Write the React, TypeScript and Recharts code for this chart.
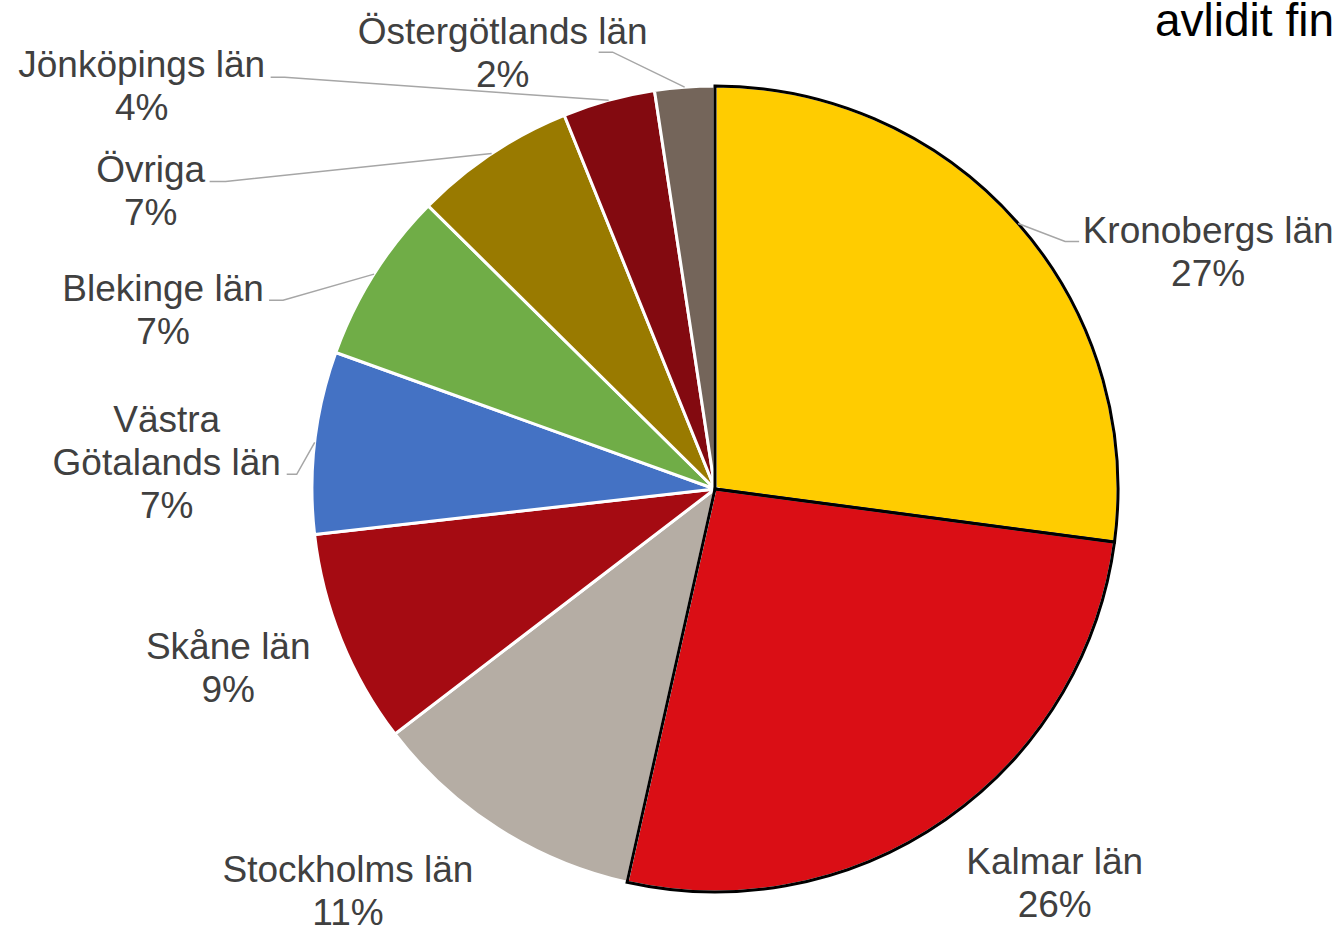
import React from 'react';
import { PieChart, Pie, Cell } from 'recharts';

const regions = [
  'Kronobergs län',
  'Kalmar län',
  'Stockholms län',
  'Skåne län',
  'Västra Götalands län',
  'Blekinge län',
  'Övriga',
  'Jönköpings län',
  'Östergötlands län',
];
const shares = [27.1, 26.4, 11.1, 8.6, 7.3, 6.9, 6.5, 3.7, 2.4];
const labelRows = [
  ['Kronobergs län'],
  ['Kalmar län'],
  ['Stockholms län'],
  ['Skåne län'],
  ['Västra', 'Götalands län'],
  ['Blekinge län'],
  ['Övriga'],
  ['Jönköpings län'],
  ['Östergötlands län'],
];
const titleText = 'avlidit fin';

const colors = ['#FFCC00', '#DA0E15', '#B5ADA4', '#A50B12', '#4472C4', '#70AD47', '#997A00', '#830A10', '#74655A'];
const outlined = [true, true, false, false, false, false, false, false, false];

// label placement relative to the slice's outer edge point (style only)
const labelLayout = [
  { dx: 190, dy: 28, leader: { ex: -143, ey: -10, tail: 14 } },
  { dx: 109, dy: 63 },
  { dx: -150, dy: 62 },
  { dx: -113, dy: 28 },
  { dx: -148, dy: 20, leader: { ex: 130, ey: 12, tail: -10 } },
  { dx: -211, dy: 35, leader: { ex: 120, ey: -9, tail: -14 } },
  { dx: -341, dy: 37, leader: { ex: 75, ey: -9, tail: -16 } },
  { dx: -467, dy: -15, leader: { ex: 143, ey: -8, tail: -14 } },
  { dx: -182, dy: -35, leader: { ex: 110, ey: 0, tail: -14 } },
];

const data = regions.map((name, i) => ({ name, value: shares[i] }));

const RADIAN = Math.PI / 180;
const FONT = '"Liberation Sans", Arial, sans-serif';
const FS = 37;
const LH = 43;

const renderLabel = (props: any) => {
  const { cx, cy, midAngle, outerRadius, index, percent } = props;
  const ex = cx + outerRadius * Math.cos(-midAngle * RADIAN);
  const ey = cy + outerRadius * Math.sin(-midAngle * RADIAN);
  const lay = labelLayout[index];
  const lx = ex + lay.dx;
  const ly = ey + lay.dy;
  const lines = [...labelRows[index], `${Math.round(percent * 100)}%`];
  const n = lines.length;
  let leader = null;
  if (lay.leader) {
    const bx = lx + lay.leader.ex;
    const by = ly + lay.leader.ey;
    leader = (
      <path
        d={`M${ex},${ey}L${bx},${by}L${bx + lay.leader.tail},${by}`}
        stroke="#A6A6A6"
        strokeWidth={1.5}
        fill="none"
      />
    );
  }
  return (
    <g key={`lbl-${index}`}>
      {leader}
      <text
        x={lx}
        y={ly}
        textAnchor="middle"
        fontFamily={FONT}
        fontSize={FS}
        fill="#404040"
      >
        {lines.map((t, i) => (
          <tspan key={i} x={lx} y={ly + (i - (n - 1) / 2) * LH + 13}>
            {t}
          </tspan>
        ))}
      </text>
    </g>
  );
};

export default function App() {
  return (
    <div
      style={{
        position: 'absolute',
        left: 0,
        top: 0,
        width: 1338,
        height: 929,
        overflow: 'hidden',
        background: '#fff',
      }}
    >
      <PieChart width={1338} height={929} margin={{ top: 0, right: 0, bottom: 0, left: 0 }}>
        <Pie
          data={data}
          dataKey="value"
          nameKey="name"
          cx={715}
          cy={489}
          outerRadius={403}
          startAngle={90}
          endAngle={-270}
          isAnimationActive={false}
          labelLine={false}
          label={renderLabel}
          stroke="#fff"
          strokeWidth={3}
        >
          {data.map((d, i) => (
            <Cell key={d.name} fill={colors[i]} stroke="#fff" strokeWidth={3} />
          ))}
        </Pie>
        <Pie
          data={data}
          dataKey="value"
          nameKey="name"
          cx={715}
          cy={489}
          outerRadius={403}
          startAngle={90}
          endAngle={-270}
          isAnimationActive={false}
          labelLine={false}
          label={false}
          fill="none"
        >
          {data.map((d, i) => (
            <Cell
              key={`o-${d.name}`}
              fill="none"
              stroke={outlined[i] ? '#000' : 'none'}
              strokeWidth={3}
            />
          ))}
        </Pie>
      </PieChart>
      <div
        style={{
          position: 'absolute',
          left: 1155,
          top: -3,
          fontFamily: FONT,
          fontSize: 46,
          lineHeight: '46px',
          color: '#000',
          whiteSpace: 'nowrap',
        }}
      >
        {titleText}
      </div>
    </div>
  );
}
